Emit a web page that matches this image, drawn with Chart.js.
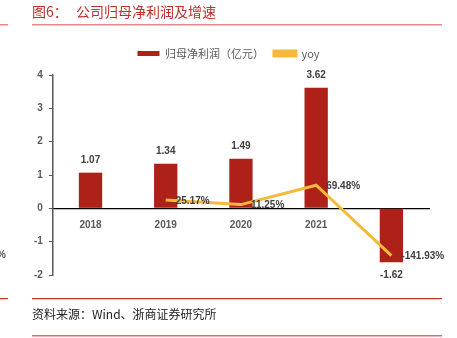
<!DOCTYPE html>
<html>
<head>
<meta charset="utf-8">
<script src="https://cdn.jsdelivr.net/npm/chart.js@4"></script>
<style>
  html, body { margin: 0; padding: 0; background: #fff; }
  #wrap { width: 457px; height: 338px; position: relative; }
</style>
</head>
<body>
<div id="wrap"><canvas id="chart" width="457" height="338"></canvas></div>
<script>
// Data
const years = ['2018', '2019', '2020', '2021', '2022'];
const profit = [1.07, 1.34, 1.49, 3.62, -1.62];   // 亿元
const yoy = [null, 25.17, 11.25, 69.48, -141.93];   // %
const yTicks = [-2, -1, 0, 1, 2, 3, 4];

const barColor = '#ad2119';
const lineColor = '#f5ba3a';
const textGray = '#595959';

// page decoration: title, rules, source note, value labels
const frame = {
  id: 'frame',
  beforeInit(chart) {
    const fit = chart.legend.fit;
    chart.legend.fit = function () { fit.call(this); this.height += 6; };
  },
  beforeDraw(chart) {
    const c = chart.ctx;
    c.save();
    c.fillStyle = '#fff';
    c.fillRect(0, 0, chart.width, chart.height);
    c.fillStyle = '#c0302b';
    c.font = '14px "Noto Sans CJK SC"';
    c.textBaseline = 'middle';
    c.fillText('图6：', 32, 12);
    c.fillText('公司归母净利润及增速', 76, 12);
    c.fillStyle = '#e48a8a';
    c.fillRect(32, 24, 410, 1.5);
    c.fillRect(0, 24, 8, 1.5);
    c.fillStyle = '#c0302b';
    c.fillRect(32, 298, 410, 1.2);
    c.fillRect(0, 298, 8, 1.2);
    c.fillStyle = '#e06a6a';
    c.fillRect(32, 335, 410, 1.5);
    c.fillStyle = '#222';
    c.font = '12px "Noto Sans CJK SC"';
    c.fillText('资料来源：Wind、浙商证券研究所', 32, 314);
    c.fillStyle = textGray;
    c.font = 'bold 10px "Liberation Sans"';
    c.fillText('%', -3, 255);
    c.restore();
  },
  afterDatasetsDraw(chart) {
    const c = chart.ctx;
    c.save();
    c.font = 'bold 10px "Liberation Sans"';
    c.fillStyle = '#404040';
    // bar labels
    chart.getDatasetMeta(0).data.forEach((el, i) => {
      const v = profit[i];
      c.textAlign = 'center';
      c.textBaseline = 'middle';
      const y = v >= 0 ? el.y - 12 : el.y + 13;
      c.fillText(v.toFixed(2), el.x, y);
    });
    // line labels
    chart.getDatasetMeta(1).data.forEach((el, i) => {
      const v = yoy[i];
      if (v === null) return;
      c.textAlign = 'left';
      c.textBaseline = 'middle';
      c.fillText(v.toFixed(2) + '%', el.x + 10, el.y + 1);
    });
    c.restore();
  }
};

new Chart(document.getElementById('chart').getContext('2d'), {
  type: 'bar',
  data: {
    labels: years,
    datasets: [{
      label: '归母净利润（亿元）',
      data: profit,
      backgroundColor: barColor,
      categoryPercentage: 1,
      barPercentage: 0.31,
      yAxisID: 'y',
      order: 2
    }, {
      type: 'line',
      label: 'yoy',
      data: yoy,
      borderColor: lineColor,
      backgroundColor: lineColor,
      borderWidth: 3,
      pointRadius: 0,
      tension: 0,
      yAxisID: 'y1',
      order: 1
    }]
  },
  options: {
    responsive: false,
    animation: false,
    layout: { padding: { top: 38, left: 28, right: 28, bottom: 63 } },
    plugins: {
      legend: {
        display: true,
        labels: {
          boxWidth: 22,
          boxHeight: 5,
          color: textGray,
          font: { size: 11, family: '"Noto Sans CJK SC"' },
          padding: 10,
          sort: (a, b) => a.datasetIndex - b.datasetIndex
        }
      },
      tooltip: { enabled: false }
    },
    scales: {
      x: {
        position: { y: 0 },
        grid: { display: false, drawTicks: false },
        border: { color: '#000', width: 1.2 },
        ticks: { color: textGray, font: { size: 10, weight: 'bold', family: '"Liberation Sans"' }, padding: 11 }
      },
      y: {
        min: -2,
        max: 4,
        afterBuildTicks(axis) { axis.ticks = yTicks.map(v => ({ value: v })); },
        grid: { drawOnChartArea: false, drawTicks: true, tickLength: 4, color: '#595959' },
        border: { color: '#595959', width: 1.5 },
        ticks: { color: textGray, font: { size: 10, weight: 'bold', family: '"Liberation Sans"' }, padding: 6 }
      },
      y1: {
        display: false,
        min: -200,
        max: 400
      }
    }
  },
  plugins: [frame]
});
</script>
</body>
</html>
